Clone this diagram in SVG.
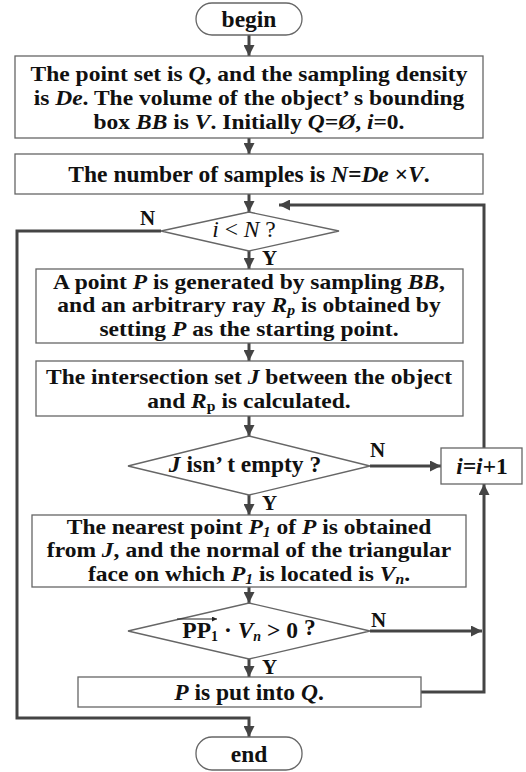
<svg xmlns="http://www.w3.org/2000/svg" width="526" height="772" viewBox="0 0 526 772">
<defs>
<marker id="ah" markerUnits="userSpaceOnUse" viewBox="0 0 10 10" refX="10" refY="5" markerWidth="11" markerHeight="11" orient="auto">
<path d="M0,0 L10,5 L0,10 z" fill="#444"/>
</marker>
<marker id="vec" markerUnits="userSpaceOnUse" viewBox="0 0 10 10" refX="10" refY="5" markerWidth="5" markerHeight="5" orient="auto">
<path d="M0,0 L10,5 L0,10 z" fill="#222"/>
</marker>
</defs>
<style>
.box{fill:#fff;stroke:#666;stroke-width:1.3}
.t{font-family:"Liberation Serif","Times New Roman",serif;font-size:23.5px;font-weight:bold;fill:#111;text-anchor:middle}
.m{font-size:21px}
.n{font-weight:normal}
.i{font-style:italic}
.s{font-size:14px}
.lbl{font-family:"Liberation Serif","Times New Roman",serif;font-size:21px;font-weight:bold;fill:#111}
.ca{fill:none;stroke:#444;stroke-width:3;marker-end:url(#ah)}
</style>
<rect width="526" height="772" fill="#fff"/>

<g id="connectors">
<path class="ca" d="M249,35 V56"/>
<path class="ca" d="M249,138 V154"/>
<path class="ca" d="M249,194 V212"/>
<path class="ca" d="M249,251 V269"/>
<path class="ca" d="M249,343 V361"/>
<path class="ca" d="M249,416 V436"/>
<path class="ca" d="M249,495 V515"/>
<path class="ca" d="M249,587 V603"/>
<path class="ca" d="M249,659 V677"/>
<path class="ca" d="M161,231 H17 V718 H249 V737"/>
<path class="ca" d="M370,466 H441"/>
<path class="ca" d="M370,631 H482"/>
<path class="ca" d="M421,692 H484 V484"/>
<path class="ca" d="M484,448 V205 H279"/>
<text class="lbl" x="140" y="225">N</text>
<text class="lbl" x="262" y="265">Y</text>
<text class="lbl" x="370" y="457">N</text>
<text class="lbl" x="262" y="510">Y</text>
<text class="lbl" x="371" y="627">N</text>
<text class="lbl" x="262" y="674">Y</text>
</g>

<g id="begin">
<rect class="box" x="196" y="3" width="106" height="32" rx="16"/>
<text class="t" x="249" y="27">begin</text>
</g>

<g id="init">
<rect class="box" x="15" y="56" width="468" height="82"/>
<g transform="translate(249 0) scale(1.12 1)">
<text class="t m" x="0" y="81">The point set is <tspan class="i">Q</tspan>, and the sampling density</text>
<text class="t m" x="0" y="105">is <tspan class="i">De</tspan>. The volume of the object’ s bounding</text>
<text class="t m" x="0" y="129">box <tspan class="i">BB</tspan>  is <tspan class="i">V</tspan>. Initially <tspan class="i">Q=Ø</tspan>,  <tspan class="i">i</tspan>=0.</text>
</g>
</g>

<g id="samples">
<rect class="box" x="15" y="154" width="468" height="40"/>
<text class="t" x="249" y="182">The number of samples is <tspan class="i">N=De</tspan> ×<tspan class="i">V</tspan>.</text>
</g>

<g id="cond1">
<polygon class="box" points="249,212 339,231 249,251 161,231"/>
<text class="t n" x="244" y="237"><tspan class="i">i</tspan> &lt; <tspan class="i">N</tspan> ?</text>
</g>

<g id="genpoint">
<rect class="box" x="36" y="269" width="427" height="74"/>
<g transform="translate(249 0) scale(1.12 1)">
<text class="t m" x="0" y="289">A point <tspan class="i">P</tspan> is generated by sampling <tspan class="i">BB</tspan>,</text>
<text class="t m" x="0" y="312.5">and an arbitrary ray <tspan class="i">R<tspan class="s" baseline-shift="-3">p</tspan></tspan> is obtained by</text>
<text class="t m" x="0" y="336">setting <tspan class="i">P</tspan> as the starting point.</text>
</g>
</g>

<g id="intersect">
<rect class="box" x="36" y="361" width="427" height="55"/>
<g transform="translate(249 0) scale(1.12 1)">
<text class="t m" x="0" y="384">The intersection set <tspan class="i">J</tspan> between the object</text>
<text class="t m" x="0" y="408">and <tspan class="i">R</tspan><tspan class="s" baseline-shift="-3">p</tspan> is calculated.</text>
</g>
</g>

<g id="cond2">
<polygon class="box" points="249,436 370,466 249,495 128,466"/>
<text class="t" x="245" y="472"><tspan class="i">J</tspan> isn’ t empty ?</text>
</g>

<g id="incr">
<rect class="box" x="441" y="448" width="81" height="36"/>
<text class="t" x="482" y="474"><tspan class="i">i=i</tspan>+1</text>
</g>

<g id="nearest">
<rect class="box" x="32" y="515" width="434" height="72"/>
<g transform="translate(249 0) scale(1.12 1)">
<text class="t m" x="0" y="534">The nearest point <tspan class="i">P<tspan class="s" baseline-shift="-3">1</tspan></tspan> of <tspan class="i">P</tspan> is obtained</text>
<text class="t m" x="0" y="557.5">from <tspan class="i">J</tspan>, and the normal of the triangular</text>
<text class="t m" x="0" y="581">face on which <tspan class="i">P<tspan class="s" baseline-shift="-3">1</tspan></tspan> is located is <tspan class="i">V<tspan class="s" baseline-shift="-3">n</tspan></tspan>.</text>
</g>
</g>

<g id="cond3">
<polygon class="box" points="249,603 370,631 249,659 128,631"/>
<path d="M177,619 H217" stroke="#222" stroke-width="1.2" marker-end="url(#vec)"/>
<text class="t" x="249" y="638">PP<tspan class="s" baseline-shift="-3">1</tspan> · <tspan class="i">V<tspan class="s" baseline-shift="-3">n</tspan></tspan> &gt; 0 <tspan baseline-shift="3">?</tspan></text>
</g>

<g id="putq">
<rect class="box" x="78" y="677" width="343" height="30"/>
<text class="t" x="249" y="700"><tspan class="i">P</tspan> is put into <tspan class="i">Q</tspan>.</text>
</g>

<g id="end">
<rect class="box" x="196" y="737" width="106" height="33" rx="16"/>
<text class="t" x="249" y="762">end</text>
</g>
</svg>
